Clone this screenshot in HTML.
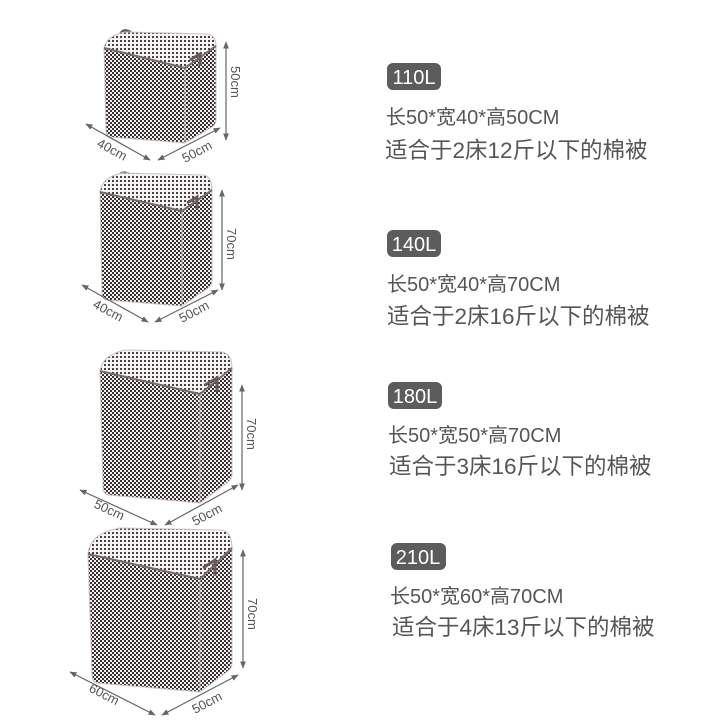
<!DOCTYPE html>
<html><head><meta charset="utf-8">
<style>
html,body{margin:0;padding:0;background:#fff;}
svg{display:block}
.t1{font-family:"Liberation Sans","Noto Sans CJK SC",sans-serif;font-size:20px;fill:#555;}
.t2{font-family:"Liberation Sans","Noto Sans CJK SC",sans-serif;font-size:22.5px;fill:#555;}
.bd{font-family:"Liberation Sans",sans-serif;font-size:20px;fill:#fff;text-anchor:middle}
.dm{font-family:"Liberation Sans",sans-serif;font-size:13px;fill:#555;}
.f{stroke:#c9c3c3;stroke-width:1;stroke-linejoin:round}
</style></head><body>
<svg width="720" height="720" viewBox="0 0 720 720" xmlns="http://www.w3.org/2000/svg">
<defs>
<pattern id="hf" width="4" height="4" patternUnits="userSpaceOnUse">
<rect width="4" height="4" fill="#f2f2f2"/>
<rect width="2" height="2" fill="#3a3030"/>
<rect x="2" y="2" width="2" height="2" fill="#3a3030"/>
</pattern>
<pattern id="ht" width="4" height="4" patternUnits="userSpaceOnUse">
<rect width="4" height="4" fill="#f4f4f4"/>
<rect width="2" height="2" fill="#4a4040"/>
</pattern>
<marker id="a" viewBox="0 0 10 10" refX="9" refY="5" markerWidth="6" markerHeight="6" orient="auto-start-reverse">
<path d="M0,1 L10,5 L0,9 z" fill="#666"/>
</marker>
</defs>

<!-- Box 1 -->
<path d="M120,36 q2,-8 10,-4 l2,6" fill="none" stroke="#6a5858" stroke-width="3"/>
<path class="f" d="M104,48 Q106,36 125,32 L208,34 Q216,36 216,46 L185,68 Z" fill="url(#ht)"/>
<path class="f" d="M104,48 L185,68 L185,143 L110,137 Q106,136 106,130 Z" fill="url(#hf)"/>
<path class="f" d="M185,68 L216,46 L216,120 Q216,124 212,127 L185,143 Z" fill="url(#hf)"/>
<path d="M104,48 L185,68 L216,46" fill="none" stroke="#7a6a6a" stroke-width="2"/>
<path d="M190,60 l10,-6 l0,12" fill="none" stroke="#6a5858" stroke-width="3"/>
<line x1="226" y1="42" x2="226" y2="140" stroke="#666" stroke-width="1.2" marker-start="url(#a)" marker-end="url(#a)"/>
<text class="dm" transform="translate(231,66) rotate(90)">50cm</text>
<line x1="86" y1="124" x2="150" y2="160" stroke="#666" stroke-width="1.2" marker-start="url(#a)" marker-end="url(#a)"/>
<text class="dm" transform="translate(96,146) rotate(28)">40cm</text>
<line x1="158" y1="160" x2="220" y2="128" stroke="#666" stroke-width="1.2" marker-start="url(#a)" marker-end="url(#a)"/>
<text class="dm" transform="translate(185,163) rotate(-28)">50cm</text>

<!-- Box 2 -->
<path d="M118,180 q2,-10 10,-6 l2,6" fill="none" stroke="#6a5858" stroke-width="3"/>
<path class="f" d="M100,192 Q102,177 122,173 L204,175 Q212,177 212,190 L182,211 Z" fill="url(#ht)"/>
<path class="f" d="M100,192 L182,211 L182,306 L106,300 Q102,299 102,292 Z" fill="url(#hf)"/>
<path class="f" d="M182,211 L212,190 L212,281 Q212,285 208,288 L182,306 Z" fill="url(#hf)"/>
<path d="M100,192 L182,211 L212,190" fill="none" stroke="#7a6a6a" stroke-width="2"/>
<path d="M187,203 l10,-6 l0,12" fill="none" stroke="#6a5858" stroke-width="3"/>
<line x1="222" y1="190" x2="222" y2="290" stroke="#666" stroke-width="1.2" marker-start="url(#a)" marker-end="url(#a)"/>
<text class="dm" transform="translate(227,228) rotate(90)">70cm</text>
<line x1="82" y1="285" x2="148" y2="322" stroke="#666" stroke-width="1.2" marker-start="url(#a)" marker-end="url(#a)"/>
<text class="dm" transform="translate(92,307) rotate(28)">40cm</text>
<line x1="155" y1="322" x2="218" y2="290" stroke="#666" stroke-width="1.2" marker-start="url(#a)" marker-end="url(#a)"/>
<text class="dm" transform="translate(182,323) rotate(-28)">50cm</text>

<!-- Box 3 -->
<path d="M122,360 q2,-12 10,-6 l2,6" fill="none" stroke="#6a5858" stroke-width="3"/>
<path class="f" d="M100,371 Q102,355 125,350 L222,352 Q232,354 232,368 L200,394 Z" fill="url(#ht)"/>
<path class="f" d="M100,371 L200,394 L200,503 L108,495 Q103,494 103,486 Z" fill="url(#hf)"/>
<path class="f" d="M200,394 L232,368 L232,474 Q232,479 228,482 L200,503 Z" fill="url(#hf)"/>
<path d="M100,371 L200,394 L232,368" fill="none" stroke="#7a6a6a" stroke-width="2"/>
<path d="M205,385 l12,-7 l0,14" fill="none" stroke="#6a5858" stroke-width="3"/>
<line x1="242" y1="385" x2="242" y2="490" stroke="#666" stroke-width="1.2" marker-start="url(#a)" marker-end="url(#a)"/>
<text class="dm" transform="translate(247,418) rotate(90)">70cm</text>
<line x1="80" y1="490" x2="157" y2="525" stroke="#666" stroke-width="1.2" marker-start="url(#a)" marker-end="url(#a)"/>
<text class="dm" transform="translate(93,507) rotate(25)">50cm</text>
<line x1="165" y1="525" x2="238" y2="485" stroke="#666" stroke-width="1.2" marker-start="url(#a)" marker-end="url(#a)"/>
<text class="dm" transform="translate(195,526) rotate(-28)">50cm</text>

<!-- Box 4 -->
<path d="M112,540 q3,-14 12,-8 l3,6" fill="none" stroke="#6a5858" stroke-width="3"/>
<path class="f" d="M88,554 Q90,533 120,528 L222,530 Q232,532 232,548 L200,579 Z" fill="url(#ht)"/>
<path class="f" d="M88,554 L200,579 L200,692 L97,683 Q92,682 92,674 Z" fill="url(#hf)"/>
<path class="f" d="M200,579 L232,548 L232,663 Q232,668 228,671 L200,692 Z" fill="url(#hf)"/>
<path d="M88,554 L200,579 L232,548" fill="none" stroke="#7a6a6a" stroke-width="2"/>
<path d="M203,568 l12,-8 l0,16" fill="none" stroke="#6a5858" stroke-width="3"/>
<line x1="243" y1="550" x2="243" y2="668" stroke="#666" stroke-width="1.2" marker-start="url(#a)" marker-end="url(#a)"/>
<text class="dm" transform="translate(248,598) rotate(90)">70cm</text>
<line x1="70" y1="672" x2="155" y2="715" stroke="#666" stroke-width="1.2" marker-start="url(#a)" marker-end="url(#a)"/>
<text class="dm" transform="translate(88,691) rotate(27)">60cm</text>
<line x1="162" y1="715" x2="238" y2="675" stroke="#666" stroke-width="1.2" marker-start="url(#a)" marker-end="url(#a)"/>
<text class="dm" transform="translate(195,714) rotate(-28)">50cm</text>

<!-- Labels -->
<rect x="387" y="63" width="54" height="27" rx="6" fill="#5c5c5c"/>
<text class="bd" x="414" y="84">110L</text>
<text class="t1" x="386" y="124">长50*宽40*高50CM</text>
<text class="t2" x="385" y="158">适合于2床12斤以下的棉被</text>

<rect x="387" y="230" width="54" height="27" rx="6" fill="#5c5c5c"/>
<text class="bd" x="414" y="251">140L</text>
<text class="t1" x="387" y="291">长50*宽40*高70CM</text>
<text class="t2" x="387" y="324">适合于2床16斤以下的棉被</text>

<rect x="388" y="382" width="54" height="27" rx="6" fill="#5c5c5c"/>
<text class="bd" x="415" y="403">180L</text>
<text class="t1" x="388" y="442">长50*宽50*高70CM</text>
<text class="t2" x="389" y="474">适合于3床16斤以下的棉被</text>

<rect x="391" y="543" width="55" height="27" rx="6" fill="#5c5c5c"/>
<text class="bd" x="418" y="564">210L</text>
<text class="t1" x="390" y="603">长50*宽60*高70CM</text>
<text class="t2" x="392" y="635">适合于4床13斤以下的棉被</text>
</svg>
</body></html>
